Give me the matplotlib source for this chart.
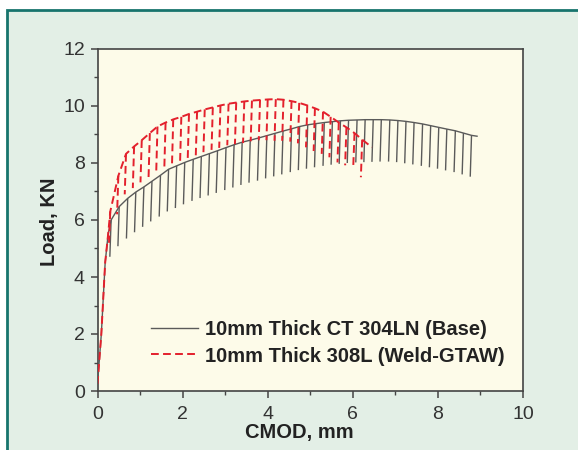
import numpy as np
import matplotlib.pyplot as plt
from matplotlib.collections import LineCollection
from matplotlib.patches import Rectangle

plt.rcParams['font.family'] = ['Liberation Sans', 'DejaVu Sans']

# elastic loading part shared by both specimens (CMOD mm, load kN)
elastic_cmod = [0.0, 0.09, 0.18, 0.25]
elastic_load = [0.25, 2.0, 4.5, 5.5]

# 304LN base metal: unloading points (CMOD, load at start and end of each unload)
base_cmod = [0.32, 0.51, 0.71, 0.90, 1.09, 1.28, 1.48, 1.67, 1.86, 2.05,
             2.25, 2.44, 2.63, 2.82, 3.02, 3.21, 3.40, 3.59, 3.79, 3.98,
             4.17, 4.36, 4.56, 4.75, 4.94, 5.13, 5.33, 5.52, 5.71, 5.90,
             6.10, 6.29, 6.48, 6.67, 6.87, 7.06, 7.25, 7.44, 7.64, 7.83,
             8.02, 8.21, 8.41, 8.60, 8.79]
base_peak = [6.00, 6.47, 6.76, 6.98, 7.16, 7.36, 7.57, 7.78, 7.90, 8.02,
             8.13, 8.23, 8.33, 8.43, 8.54, 8.64, 8.73, 8.80, 8.88, 8.96,
             9.04, 9.12, 9.20, 9.28, 9.34, 9.38, 9.42, 9.45, 9.48, 9.50,
             9.51, 9.52, 9.52, 9.52, 9.51, 9.49, 9.46, 9.42, 9.37, 9.31,
             9.25, 9.19, 9.13, 9.05, 8.97]
base_valley = [4.71, 5.08, 5.35, 5.57, 5.76, 5.95, 6.12, 6.30, 6.42, 6.55,
               6.67, 6.77, 6.86, 6.95, 7.05, 7.14, 7.23, 7.31, 7.38, 7.46,
               7.53, 7.60, 7.68, 7.75, 7.80, 7.85, 7.90, 7.94, 7.97, 8.00,
               8.02, 8.03, 8.04, 8.05, 8.05, 8.03, 7.99, 7.95, 7.90, 7.85,
               7.80, 7.74, 7.68, 7.60, 7.52]
base_end = (8.92, 8.94)

# 308L weld (GTAW)
weld_cmod = [0.30, 0.49, 0.67, 0.86, 1.04, 1.23, 1.41, 1.60, 1.78, 1.97,
             2.15, 2.34, 2.52, 2.71, 2.89, 3.08, 3.26, 3.45, 3.63, 3.82,
             4.00, 4.19, 4.37, 4.56, 4.74, 4.93, 5.11, 5.30, 5.48, 5.67,
             5.85, 6.04, 6.22]
weld_peak = [6.30, 7.55, 8.32, 8.58, 8.80, 9.05, 9.28, 9.42, 9.53, 9.62,
             9.72, 9.80, 9.88, 9.95, 10.02, 10.08, 10.12, 10.16, 10.19, 10.21,
             10.23, 10.24, 10.22, 10.17, 10.11, 10.02, 9.92, 9.80, 9.62, 9.42,
             9.25, 9.05, 8.82]
weld_valley = [5.20, 6.20, 6.90, 7.12, 7.32, 7.50, 7.68, 7.80, 7.90, 7.99,
               8.12, 8.27, 8.38, 8.46, 8.53, 8.62, 8.66, 8.70, 8.76, 8.80,
               8.80, 8.78, 8.78, 8.75, 8.69, 8.55, 8.42, 8.32, 8.20, 8.02,
               7.92, 7.85, 7.50]
weld_end = (6.45, 8.55)

unload_back = 0.03  # CMOD recovered during each unloading

base_label = '10mm Thick CT 304LN (Base)'
weld_label = '10mm Thick 308L (Weld-GTAW)'

base_color = '#5a5a5a'
weld_color = '#e3202c'

fig = plt.figure(figsize=(5.78, 4.5), dpi=100, facecolor='white')
frame = Rectangle((7 / 578, -0.1), 1.2, 1 - 10 / 450 + 0.1, transform=fig.transFigure,
                  facecolor='#e3efe6', edgecolor='#17746d', linewidth=2.0, zorder=-10)
fig.patches.append(frame)

ax = fig.add_axes([97.5 / 578, 59 / 450, 425.5 / 578, 342 / 450])
ax.set_facecolor('#fdfbe9')


def draw_test(cmod, peak, valley, end, color, dashed, label):
    env_x = elastic_cmod + cmod + [end[0]]
    env_y = elastic_load + peak + [end[1]]
    ls = (0, (4, 2.2)) if dashed else '-'
    lw = 1.4 if dashed else 1.0
    ax.plot(env_x, env_y, color=color, lw=lw, ls=ls, label=label, zorder=3)
    segs = [[(x, p), (x - unload_back, v)] for x, p, v in zip(cmod, peak, valley)]
    ax.add_collection(LineCollection(segs, colors=color, linewidths=lw,
                                     linestyles=ls, zorder=3))


draw_test(base_cmod, base_peak, base_valley, base_end, base_color, False, base_label)
draw_test(weld_cmod, weld_peak, weld_valley, weld_end, weld_color, True, weld_label)

ax.set_xlim(0, 10)
ax.set_ylim(0, 12)
ax.set_xticks(np.arange(0, 11, 2))
ax.set_xticks(np.arange(1, 10, 2), minor=True)
ax.set_yticks(np.arange(0, 13, 2))
ax.set_yticks(np.arange(1, 12, 2), minor=True)
ax.tick_params(which='major', direction='out', length=5, width=1.1,
               color='#444444', labelsize=14, labelcolor='#333333', pad=4)
ax.tick_params(axis='x', which='major', pad=6)
ax.tick_params(which='minor', direction='out', length=3, width=1.0, color='#444444')
for sp in ax.spines.values():
    sp.set_color('#444444')
    sp.set_linewidth(1.2)

ax.set_xlabel('CMOD, mm', fontsize=14.5, fontweight='bold', color='#222222')
ax.set_ylabel('Load, KN', fontsize=14.5, fontweight='bold', color='#222222')
ax.xaxis.set_label_coords(0.474, -0.093)
ax.yaxis.set_label_coords(-0.09, 0.494)

leg = ax.legend(loc='lower left', bbox_to_anchor=(0.1025, 0.045), frameon=False,
                borderpad=0, handlelength=2.3, handletextpad=0.35, labelspacing=0.35,
                prop={'weight': 'bold', 'size': 14.5})
for t in leg.get_texts():
    t.set_color('#222222')

fig.savefig('out.png', dpi=100, facecolor=fig.get_facecolor())
